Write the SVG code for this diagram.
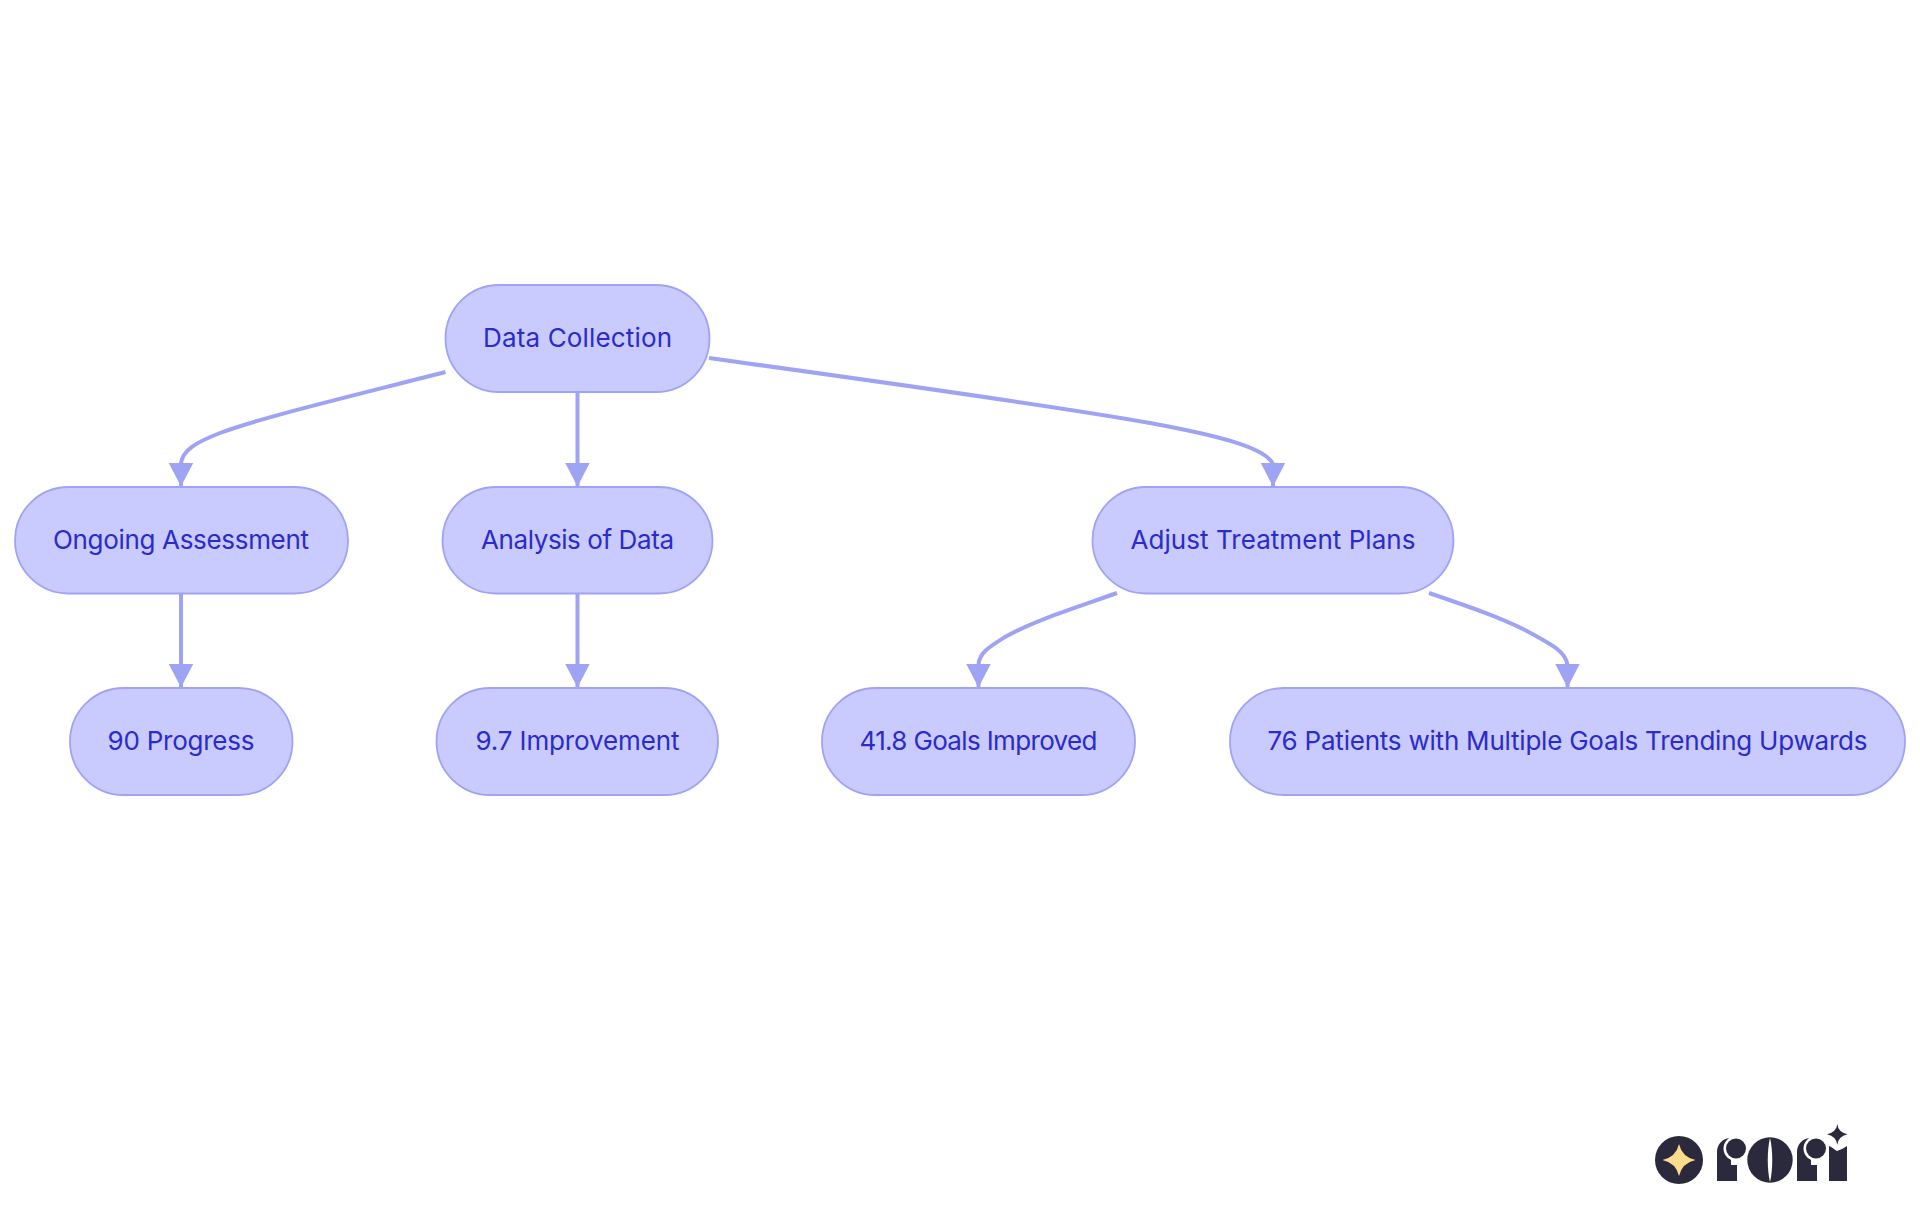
<svg xmlns="http://www.w3.org/2000/svg" width="1920" height="1215" viewBox="0 0 1920 1215">
<style>
.n rect{fill:#C9CAFD;stroke:#9FA3F3;stroke-width:1.8}
.n text{font-family:Inter,"Noto Sans","Liberation Sans",sans-serif;font-size:26px;fill:#2B2BCB;text-anchor:middle}
.e path{fill:none;stroke:#9FA3F3;stroke-width:4;marker-end:url(#a)}
.d{fill:#2A2A3C}
.w{fill:#fff}
</style>
<defs><marker id="a" markerUnits="userSpaceOnUse" markerWidth="26" markerHeight="26" refX="23.5" refY="13" orient="auto"><path d="M0,0.5L24,13L0,25.5z" fill="#9FA3F3"/></marker></defs>
<rect width="1920" height="1215" fill="#fff"/>
<g id="connectors" class="e">
<path d="M445.5,372C340,399 260,418 220,433C197,442 182,450 181,464V486"/>
<path d="M577.5,392V486"/>
<path d="M709,358C860,379 1050,405 1150,423C1215,435 1265,447 1273,464V486"/>
<path d="M181,593V687"/>
<path d="M577.5,593V687"/>
<path d="M1117,593C1075,608 1035,620 1005,637C989,647 979,653 978.5,665V687"/>
<path d="M1429,593C1470,607 1499,617 1525,630C1553,645 1566,652 1567.5,665V687"/>
</g>
<g id="n1" class="n"><rect x="445.5" y="285" width="264" height="107" rx="53.5"/><text x="577.5" y="346.5" textLength="189">Data Collection</text></g>
<g id="n2" class="n"><rect x="15" y="487" width="333" height="106.5" rx="53.5"/><text x="181" y="548.5" textLength="256">Ongoing Assessment</text></g>
<g id="n3" class="n"><rect x="442.5" y="487" width="270" height="106.5" rx="53.5"/><text x="577.5" y="548.5" textLength="193">Analysis of Data</text></g>
<g id="n4" class="n"><rect x="1092.5" y="487" width="361" height="106.5" rx="53.5"/><text x="1273" y="548.5" textLength="285">Adjust Treatment Plans</text></g>
<g id="n5" class="n"><rect x="70" y="688" width="222.5" height="107" rx="53.5"/><text x="181" y="749.5" textLength="147">90 Progress</text></g>
<g id="n6" class="n"><rect x="436.5" y="688" width="281.5" height="107" rx="53.5"/><text x="577.5" y="749.5" textLength="204">9.7 Improvement</text></g>
<g id="n7" class="n"><rect x="822" y="688" width="313" height="107" rx="53.5"/><text x="978.5" y="749.5" textLength="238">41.8 Goals Improved</text></g>
<g id="n8" class="n"><rect x="1230" y="688" width="675" height="107" rx="53.5"/><text x="1567.5" y="749.5" textLength="600">76 Patients with Multiple Goals Trending Upwards</text></g>
<g id="logo">
<circle class="d" cx="1679" cy="1160" r="24"/>
<path d="M1679,1144Q1682,1157 1695.5,1160Q1682,1163 1679,1176Q1676,1163 1662.5,1160Q1676,1157 1679,1144z" fill="#FDDC8C"/>
<path class="d" d="M1717,1181V1152C1717,1144 1723,1138 1731,1138V1165H1737V1181z"/>
<circle class="w" cx="1736" cy="1148.5" r="12.5"/>
<circle class="d" cx="1736" cy="1148.5" r="10"/>
<circle class="d" cx="1770" cy="1160" r="22.7"/>
<path d="M1770,1138C1767,1150 1767,1170 1770,1182C1773,1170 1773,1150 1770,1138z" fill="#fff"/>
<path class="d" d="M1797,1181V1152C1797,1144 1803,1138 1811,1138V1165H1817V1181z"/>
<circle class="w" cx="1816" cy="1148.5" r="12.5"/>
<circle class="d" cx="1816" cy="1148.5" r="10"/>
<path class="d" d="M1829,1181V1146C1832,1147 1835,1150 1837,1151C1840,1150 1844,1148 1847,1146V1181z"/>
<path class="d" d="M1837.3,1124Q1838,1132 1847.5,1134.3Q1838,1136.5 1837.3,1145Q1836.5,1136.5 1827,1134.3Q1836.5,1132 1837.3,1124z"/>
</g>
</svg>
